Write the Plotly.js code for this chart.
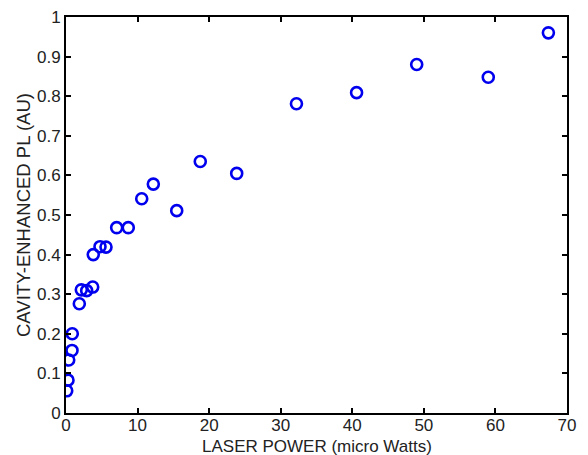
<!DOCTYPE html>
<html>
<head>
<meta charset="utf-8">
<script src="https://cdn.plot.ly/plotly-3.0.1.min.js"></script>
<style>html,body{margin:0;padding:0;background:#fff;}#plot{width:588px;height:455px;}</style>
</head>
<body>
<div id="plot"></div>
<script>
const laserPower = [0.1, 0.28, 0.38, 0.84, 0.88, 1.86, 2.14, 2.89, 3.73, 3.81, 4.75, 5.59, 7.08, 8.70, 10.58, 12.2, 15.47, 18.76, 23.85, 32.2, 40.6, 49.0, 59.0, 67.4];
const cavityPL = [0.056, 0.083, 0.134, 0.158, 0.200, 0.276, 0.311, 0.309, 0.318, 0.400, 0.420, 0.419, 0.468, 0.468, 0.541, 0.578, 0.511, 0.635, 0.605, 0.781, 0.809, 0.880, 0.848, 0.960];
const xTicks = [0, 10, 20, 30, 40, 50, 60, 70];
const yTicks = [0, 0.1, 0.2, 0.3, 0.4, 0.5, 0.6, 0.7, 0.8, 0.9, 1];
const xTitle = 'LASER POWER (micro Watts)';
const yTitle = 'CAVITY-ENHANCED PL (AU)';
const FONT = 'Liberation Sans, Arial, sans-serif';

function axis(range, vals, standoff) {
  return {
    range: range, tickvals: vals, ticktext: vals.map(String),
    showline: true, linecolor: '#000', linewidth: 2, mirror: 'ticks',
    ticks: 'inside', ticklen: 5, tickwidth: 2, tickcolor: '#000',
    showgrid: false, zeroline: false, automargin: false,
    ticklabelstandoff: standoff,
    tickfont: {family: FONT, size: 17, color: '#222'}
  };
}

Plotly.newPlot('plot', [{
  x: laserPower, y: cavityPL, type: 'scatter', mode: 'markers',
  marker: {symbol: 'circle-open', size: 11, color: '#0000ee', line: {width: 2.6, color: '#0000ee'}}
}], {
  width: 588, height: 455,
  margin: {l: 66, r: 21, t: 17, b: 42},
  paper_bgcolor: '#fff', plot_bgcolor: '#fff',
  showlegend: false,
  xaxis: axis([0, 70], xTicks, -4),
  yaxis: axis([0, 1], yTicks, 0),
  annotations: [
    {text: xTitle, xref: 'paper', yref: 'paper', x: 0.5, y: 0, xanchor: 'center', yanchor: 'top',
     yshift: -22, showarrow: false, font: {family: FONT, size: 17, color: '#222'}},
    {text: yTitle, xref: 'paper', yref: 'paper', x: 0, y: 0.5, xanchor: 'center', yanchor: 'middle',
     xshift: -43, textangle: -90, showarrow: false, font: {family: FONT, size: 18.5, color: '#222'}}
  ]
}, {displayModeBar: false, staticPlot: true});
</script>
</body>
</html>
